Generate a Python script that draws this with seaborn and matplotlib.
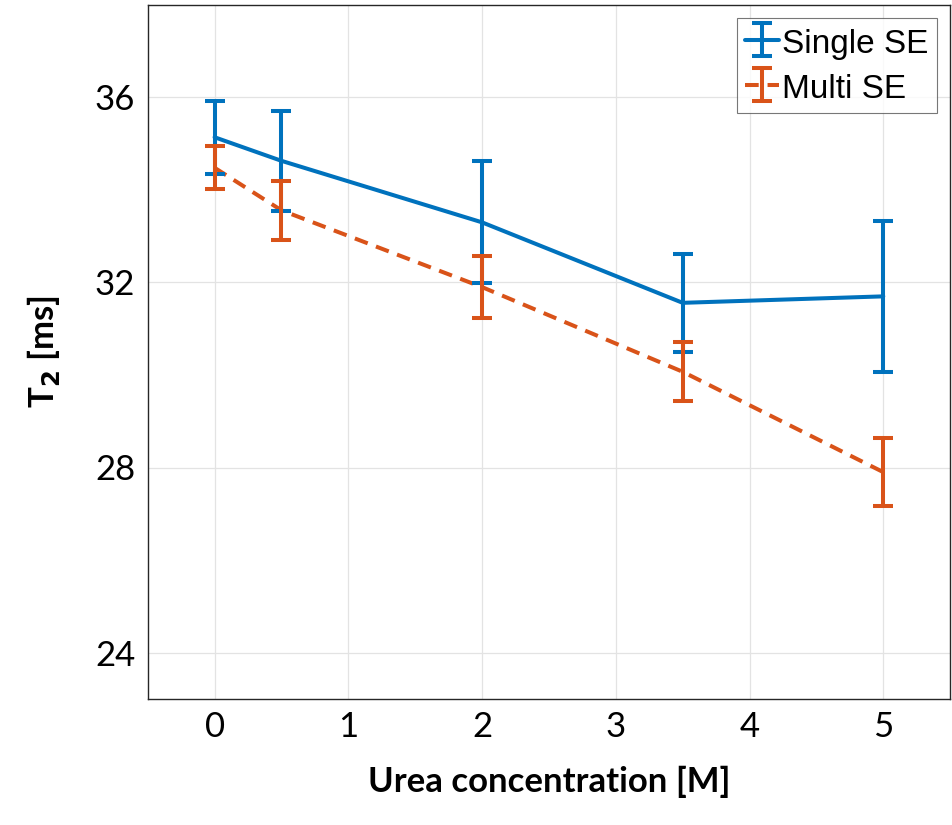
import matplotlib
matplotlib.use("Agg")
import matplotlib.pyplot as plt
import pandas as pd
import seaborn as sns
from matplotlib.legend_handler import HandlerTuple

urea = [0, 0.5, 2, 3.5, 5]
single_t2 = [35.14, 34.63, 33.30, 31.56, 31.70]
single_err = [0.79, 1.08, 1.32, 1.06, 1.63]
multi_t2 = [34.48, 33.56, 31.90, 30.07, 27.90]
multi_err = [0.46, 0.64, 0.67, 0.64, 0.73]

blue = "#0072BD"
orange = "#D95319"

df = pd.DataFrame({"urea": urea, "single": single_t2, "multi": multi_t2})

sns.set_style("white")
plt.rcParams["font.family"] = ["Lato", "DejaVu Sans"]
plt.rcParams["text.color"] = "black"
plt.rcParams["axes.labelcolor"] = "black"

fig = plt.figure(figsize=(9.53, 8.25), dpi=100)
ax = fig.add_axes([0.155, 0.153, 0.842, 0.841])

sns.lineplot(data=df, x="urea", y="single", ax=ax, color=blue, lw=2.9, legend=False)
sns.lineplot(data=df, x="urea", y="multi", ax=ax, color=orange, lw=2.9, legend=False)
ax.lines[1].set_dashes((3.4, 2.2))

eb1 = ax.errorbar(urea, single_t2, yerr=single_err, fmt="none", ecolor=blue,
                  elinewidth=2.9, capsize=7, capthick=2.9)
eb2 = ax.errorbar(urea, multi_t2, yerr=multi_err, fmt="none", ecolor=orange,
                  elinewidth=2.9, capsize=7, capthick=2.9)

ax.set_xlim(-0.5, 5.5)
ax.set_ylim(23, 38)
ax.set_xticks([0, 1, 2, 3, 4, 5])
ax.set_yticks([24, 28, 32, 36])
ax.grid(True, color="#e3e3e3", lw=0.9)
ax.set_axisbelow(True)
for s in ax.spines.values():
    s.set_visible(True)
    s.set_color("#262626")
    s.set_linewidth(1.0)
ax.tick_params(direction="in", length=7, width=1, labelsize=25, pad=9,
               colors="#262626", labelcolor="black")

ax.set_xlabel("Urea concentration [M]", fontsize=25, fontweight="bold", labelpad=16)
ax.set_ylabel("T$_\\mathbf{2}$ [ms]", fontsize=25, fontweight="bold", labelpad=24)

h1 = (ax.lines[0], eb1)
h2 = (ax.lines[1], eb2)
leg = ax.legend([h1, h2], ["Single SE", "Multi SE"], handler_map={tuple: HandlerTuple(ndivide=1)},
                loc="upper right", frameon=True, fancybox=False, handleheight=1.0,
                handlelength=1.0, handletextpad=0.1, borderpad=0.25, labelspacing=0.35,
                borderaxespad=0.4, prop={"family": "Liberation Sans", "size": 24})
leg.get_frame().set_edgecolor("#555555")
leg.get_frame().set_linewidth(0.8)

fig.savefig("out.png", dpi=100)
